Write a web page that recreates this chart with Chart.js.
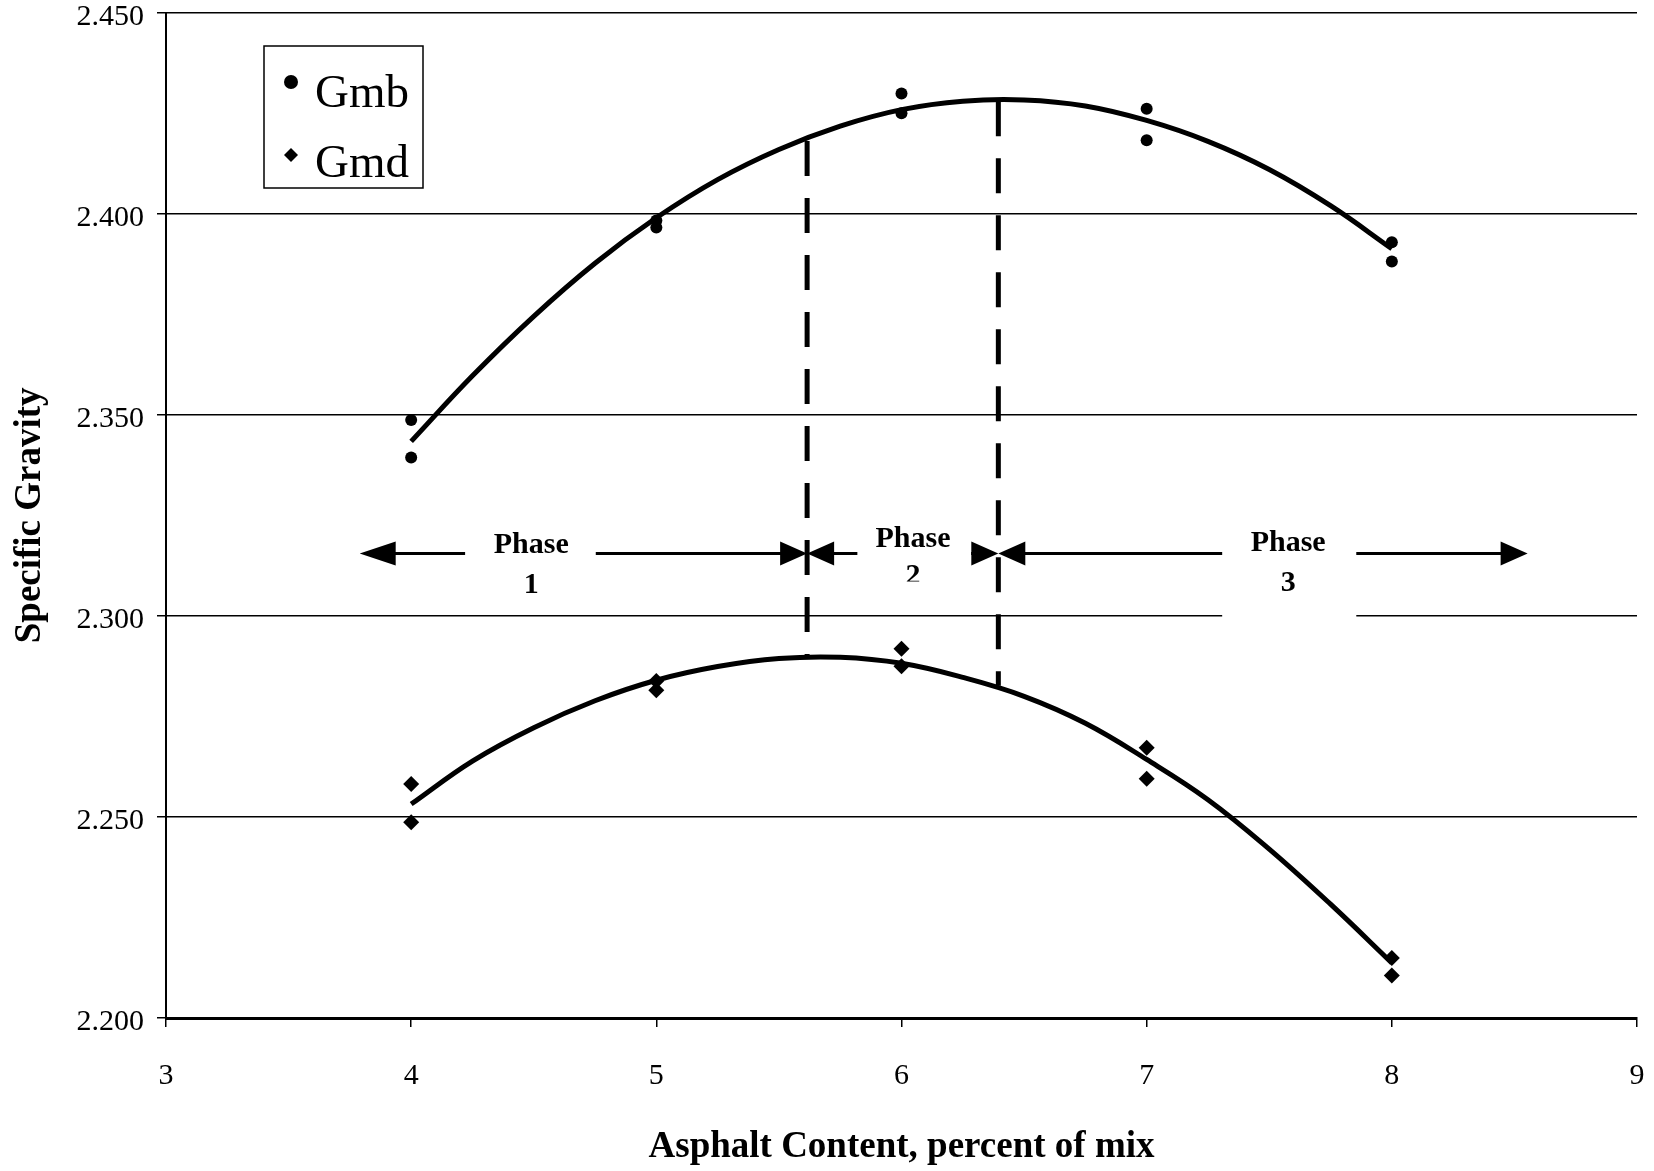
<!DOCTYPE html>
<html>
<head>
<meta charset="utf-8">
<script src="https://cdn.jsdelivr.net/npm/chart.js@4.4.1/dist/chart.umd.min.js"></script>
<style>
    html, body { margin: 0; padding: 0; background: #fff; }
</style>
</head>
<body>
<canvas id="chart" width="1654" height="1171"></canvas>
<script>
// measured specimens (two per asphalt content)
const gmbX = [4, 4, 5, 5, 6, 6, 7, 7, 8, 8];
const gmbY = [2.3487, 2.3394, 2.3983, 2.3966, 2.4299, 2.4250, 2.4261, 2.4183, 2.3929, 2.3881];
const gmdX = [4, 4, 5, 5, 6, 6, 7, 7, 8, 8];
const gmdY = [2.2582, 2.2487, 2.2838, 2.2815, 2.2918, 2.2875, 2.2672, 2.2595, 2.2149, 2.2106];

// trend curves
const fitX = [4, 4.25, 4.5, 4.75, 5, 5.25, 5.5, 5.75, 6, 6.25, 6.5, 6.75, 7, 7.25, 7.5, 7.75, 8];
const gmbFitY = [2.3434, 2.3597, 2.3745, 2.3877, 2.3990, 2.4085, 2.4160, 2.4218, 2.4259,
                 2.4280, 2.4283, 2.4268, 2.4232, 2.4180, 2.4110, 2.4020, 2.3913];
const gmdFitY = [2.2532, 2.2639, 2.2722, 2.2789, 2.2840, 2.2874, 2.2894, 2.2897, 2.2882,
                 2.2847, 2.2800, 2.2733, 2.2643, 2.2543, 2.2420, 2.2283, 2.2137];

// phase dividers
const dividerX = [5.615, 6.395];
const dividerTop = [2.4181, 2.4280];
const dividerBottom = [2.2898, 2.2826];

// phase arrows
const phaseLabels = ['1', '2', '3'];
const phaseFrom = [3.79, 5.615, 6.395];
const phaseTo = [5.615, 6.395, 8.554];
const phaseGapFrom = [4.22, 5.82, 7.308];
const phaseGapTo = [4.753, 6.284, 7.855];
const phaseTextX = [4.49, 6.047, 7.577];
const phaseArrowY = 2.3155;

const yTicks = [2.200, 2.250, 2.300, 2.350, 2.400, 2.450];
const xTicks = [3, 4, 5, 6, 7, 8, 9];

const serif = "'Liberation Serif', 'Times New Roman', serif";
Chart.defaults.font.family = serif;
Chart.defaults.color = '#000';

function pts(xs, ys) {
    return xs.map(function (x, i) { return {x: x, y: ys[i]}; });
}

var datasets = [
    {
        label: 'Gmb trend', data: pts(fitX, gmbFitY), showLine: true,
        borderColor: '#000', borderWidth: 5, pointRadius: 0, tension: 0.4
    },
    {
        label: 'Gmd trend', data: pts(fitX, gmdFitY), showLine: true,
        borderColor: '#000', borderWidth: 5, pointRadius: 0, tension: 0.4
    },
    {
        label: 'Gmb', data: pts(gmbX, gmbY), pointStyle: 'circle', pointRadius: 6,
        backgroundColor: '#000', borderColor: '#000', borderWidth: 0
    },
    {
        label: 'Gmd', data: pts(gmdX, gmdY), pointStyle: 'rectRot', pointRadius: 8,
        backgroundColor: '#000', borderColor: '#000', borderWidth: 0
    }
];

// dashed phase dividers
for (var i = 0; i < dividerX.length; i++) {
    datasets.push({
        label: 'divider ' + (i + 1),
        data: [{x: dividerX[i], y: dividerTop[i]}, {x: dividerX[i], y: dividerBottom[i]}],
        showLine: true, borderColor: '#000', borderWidth: 5, borderDash: [35, 22],
        pointRadius: 0, tension: 0
    });
}

function arrowHead(ctx, x, y, dir, len) {
    // dir = -1 points left, +1 points right
    ctx.beginPath();
    ctx.moveTo(x, y);
    ctx.lineTo(x - dir * len, y - 12);
    ctx.lineTo(x - dir * len, y + 12);
    ctx.closePath();
    ctx.fill();
}

const phasePlugin = {
    id: 'phases',
    afterDraw: function (chart) {
        const ctx = chart.ctx;
        const xs = chart.scales.x, ys = chart.scales.y;
        const ay = ys.getPixelForValue(phaseArrowY);
        const wordOffset = [-8, -14, -10];
        const numOffset = [32, 23, 30];

        ctx.save();
        // white patch behind phase 3 text
        ctx.fillStyle = '#fff';
        var gx0 = xs.getPixelForValue(phaseGapFrom[2]), gx1 = xs.getPixelForValue(phaseGapTo[2]);
        ctx.fillRect(gx0, ay + 5, gx1 - gx0, ys.getPixelForValue(2.300) - ay - 3);

        ctx.strokeStyle = '#000';
        ctx.fillStyle = '#000';
        ctx.lineWidth = 3;
        for (var i = 0; i < phaseLabels.length; i++) {
            var x0 = xs.getPixelForValue(phaseFrom[i]);
            var x1 = xs.getPixelForValue(phaseTo[i]);
            var g0 = xs.getPixelForValue(phaseGapFrom[i]);
            var g1 = xs.getPixelForValue(phaseGapTo[i]);
            var leftLen = i === 0 ? 36 : 27;
            ctx.beginPath();
            ctx.moveTo(x0 + leftLen - 2, ay); ctx.lineTo(g0, ay);
            ctx.moveTo(g1, ay); ctx.lineTo(x1 - 25, ay);
            ctx.stroke();
            arrowHead(ctx, x0, ay, -1, leftLen);
            arrowHead(ctx, x1, ay, 1, 27);

            var tx = xs.getPixelForValue(phaseTextX[i]);
            ctx.font = 'bold 30px ' + serif;
            ctx.textAlign = 'center';
            ctx.textBaseline = 'middle';
            ctx.fillText('Phase', tx, ay + wordOffset[i]);
            if (i === 1) {
                // the "2" is cut off in the original
                ctx.save();
                ctx.beginPath();
                ctx.rect(tx - 20, ay + 5, 40, 23);
                ctx.clip();
                ctx.fillText(phaseLabels[i], tx, ay + numOffset[i]);
                ctx.restore();
            } else {
                ctx.fillText(phaseLabels[i], tx, ay + numOffset[i]);
            }
        }

        // legend box
        const lx = 264, ly = 46, lw = 159, lh = 142;
        ctx.fillStyle = '#fff';
        ctx.fillRect(lx, ly, lw, lh);
        ctx.lineWidth = 1.5;
        ctx.strokeRect(lx, ly, lw, lh);
        ctx.fillStyle = '#000';
        ctx.beginPath();
        ctx.arc(lx + 27, ly + 36, 7, 0, Math.PI * 2);
        ctx.fill();
        ctx.beginPath();
        ctx.moveTo(lx + 27, ly + 102);
        ctx.lineTo(lx + 34, ly + 109);
        ctx.lineTo(lx + 27, ly + 116);
        ctx.lineTo(lx + 20, ly + 109);
        ctx.closePath();
        ctx.fill();
        ctx.font = '47px ' + serif;
        ctx.textAlign = 'left';
        ctx.textBaseline = 'alphabetic';
        ctx.fillText('Gmb', lx + 51, ly + 61);
        ctx.fillText('Gmd', lx + 51, ly + 131);
        ctx.restore();
    }
};

var chartConfig = {
    type: 'scatter',
    data: {datasets: datasets},
    options: {
        responsive: false,
        animation: false,
        devicePixelRatio: 1,
        layout: {padding: {top: 12.7, right: 17, left: 0, bottom: 0}},
        plugins: {
            legend: {display: false},
            tooltip: {enabled: false}
        },
        scales: {
            x: {
                type: 'linear', min: 3, max: 9,
                afterBuildTicks: function (scale) {
                    scale.ticks = xTicks.map(function (v) { return {value: v}; });
                },
                ticks: {font: {size: 30}, color: '#000', padding: 31, callback: function (v) { return v; }},
                grid: {drawOnChartArea: false, color: '#000', lineWidth: 1.5, tickLength: 9},
                border: {display: true, color: '#000', width: 3},
                title: {
                    display: true, text: 'Asphalt Content, percent of mix', color: '#000',
                    font: {size: 37, weight: 'bold'}, padding: {top: 0, bottom: 1}
                },
                afterFit: function (scale) {
                    scale.height = 153;
                    scale.paddingLeft = 0;
                    scale.paddingRight = 0;
                }
            },
            y: {
                type: 'linear', min: 2.2, max: 2.45,
                afterBuildTicks: function (scale) {
                    scale.ticks = yTicks.map(function (v) { return {value: v}; });
                },
                ticks: {
                    font: {size: 30}, color: '#000', padding: 13, labelOffset: 4,
                    callback: function (v) { return v.toFixed(3); }
                },
                grid: {color: '#000', lineWidth: 1.5, tickLength: 9},
                border: {display: true, color: '#000', width: 2},
                title: {
                    display: true, text: 'Specific Gravity', color: '#000',
                    font: {size: 37, weight: 'bold'}, padding: {top: 8, bottom: 0}
                },
                afterFit: function (scale) {
                    scale.width = 166;
                    scale.paddingTop = 0;
                    scale.paddingBottom = 0;
                }
            }
        }
    },
    plugins: [phasePlugin]
};

new Chart(document.getElementById('chart').getContext('2d'), chartConfig);
</script>
</body>
</html>
